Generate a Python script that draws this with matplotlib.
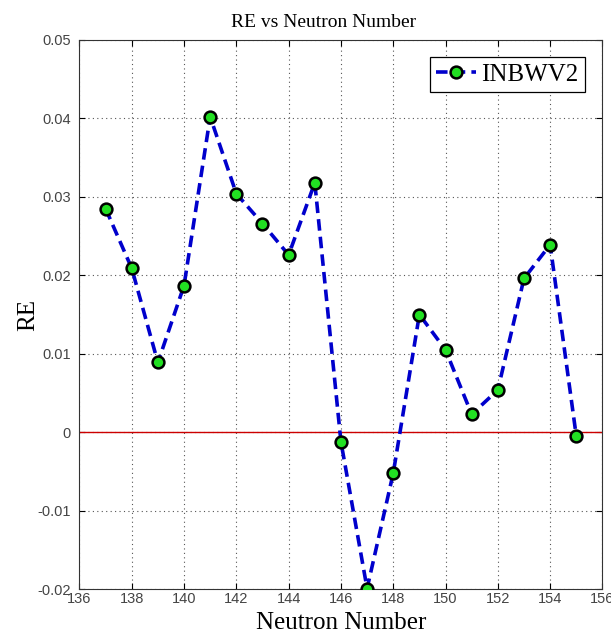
import matplotlib
matplotlib.use("Agg")
import matplotlib.pyplot as plt

neutron = [137, 138, 139, 140, 141, 142, 143, 144, 145, 146, 147, 148, 149, 150, 151, 152, 153, 154, 155]
re_vals = [0.0285, 0.0209, 0.0089, 0.0187, 0.0402, 0.0304, 0.0266, 0.0226, 0.0318, -0.0012,
           -0.0199, -0.0052, 0.0150, 0.0105, 0.0023, 0.0054, 0.0196, 0.0239, -0.0005]
series_label = "INBWV2"
xticks = [136, 138, 140, 142, 144, 146, 148, 150, 152, 154, 156]
yticks = [-0.02, -0.01, 0, 0.01, 0.02, 0.03, 0.04, 0.05]
ytick_labels = ["-0.02", "-0.01", "0", "0.01", "0.02", "0.03", "0.04", "0.05"]

fig = plt.figure(figsize=(6.11, 6.33), dpi=100)
ax = fig.add_axes([0.130, 0.069, 0.856, 0.868])

ax.axhline(0, color="#cc0000", lw=1.0, zorder=2)
ax.plot(neutron, re_vals, linestyle="--", color="#0000cc", lw=2.6, dashes=(3.2, 1.7),
        marker="o", markersize=8.5, markerfacecolor="#22e022", markeredgecolor="black",
        markeredgewidth=1.8, label=series_label, zorder=3)

ax.set_xlim(136, 156)
ax.set_ylim(-0.02, 0.05)
ax.set_xticks(xticks)
ax.set_yticks(yticks)
ax.set_yticklabels(ytick_labels)
ax.grid(True, linestyle=(0, (1, 3)), color="#555555", lw=0.8)
ax.tick_params(direction="in", top=True, right=True, labelsize=10.5, length=4)
ax.tick_params(axis="x", pad=2)
ax.tick_params(axis="y", pad=6)
for lab in ax.get_xticklabels() + ax.get_yticklabels():
    lab.set_family("Liberation Sans")
    lab.set_color("#444444")
for s in ax.spines.values():
    s.set_color("#333333")

ax.set_title("RE vs Neutron Number", family="Liberation Serif", fontsize=14, pad=9, x=0.466)
ax.set_xlabel("Neutron Number", family="Liberation Serif", fontsize=18, labelpad=4)
ax.set_ylabel("RE", family="Liberation Serif", fontsize=18, labelpad=-1)

leg = ax.legend(loc="upper right", prop={"family": "Liberation Serif", "size": 18},
                fancybox=False, framealpha=1, edgecolor="black", handlelength=1.6,
                borderaxespad=0.7, handletextpad=0.2, borderpad=0.25)
leg.get_frame().set_linewidth(0.9)

fig.savefig("out.png", dpi=100)
